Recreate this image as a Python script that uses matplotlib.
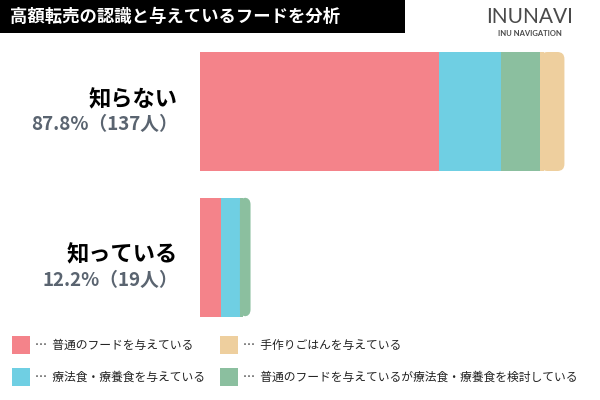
import matplotlib
matplotlib.use("Agg")
import matplotlib.pyplot as plt
from matplotlib.patches import Rectangle, FancyBboxPatch

plt.rcParams["font.family"] = "Noto Sans CJK JP"

title = "高額転売の認識と与えているフードを分析"
categories = ["知らない", "知っている"]
pct_labels = ["87.8%（137人）", "12.2%（19人）"]
series_names = ["普通のフードを与えている", "療法食・療養食を与えている",
                "普通のフードを与えているが療法食・療養食を検討している", "手作りごはんを与えている"]
# counts per category: [normal, therapeutic, considering, homemade]
normal = [90, 8]
therapeutic = [23, 7]
considering = [15, 4]
homemade = [9, 0]
colors = ["#F4838A", "#6FCFE3", "#8BBF9F", "#EECF9E"]

W, H = 600, 400
fig = plt.figure(figsize=(6, 4), dpi=100)
fig.patch.set_facecolor("white")

def fx(px): return px / W
def fy(py): return 1 - py / H

ax = fig.add_axes([fx(200), fy(317), fx(400), (317 - 52) / H])
ax.axis("off")
ax.set_xlim(0, 400 / 2.66)
ax.set_ylim(1 + 60 / 145.5, -59.5 / 145.5)
h = 119 / 145.5
series = [normal, therapeutic, considering, homemade]
ppx_x = 2.66
for i in range(len(categories)):
    left = 0
    segs = [(s[i], c) for s, c in zip(series, colors) if s[i] > 0]
    for j, (v, c) in enumerate(segs):
        if j < len(segs) - 1:
            ax.barh(i, v, left=left, height=h, color=c, linewidth=0)
        else:
            r = 7 / ppx_x
            asp = (7 / 145.5) / r
            ax.add_patch(FancyBboxPatch((left, i - h / 2), v, h,
                         boxstyle=f"round,pad=0,rounding_size={r}",
                         mutation_aspect=asp, facecolor=c, linewidth=0))
            ax.barh(i, min(v, r) * 0.5, left=left, height=h, color=c, linewidth=0)
        left += v

# title band
fig.patches.append(Rectangle((0, fy(33)), fx(405), 33 / H, transform=fig.transFigure,
                             facecolor="black", zorder=0))
fig.text(fx(10), fy(16.5), title, color="white", fontsize=12.5, fontweight="bold",
         va="center", ha="left")
fig.text(fx(530), fy(17), "INUNAVI", color="#4a4a4a", fontsize=15, ha="center",
         va="center", family="Lato")
fig.text(fx(530), fy(34), "INU NAVIGATION", color="#4a4a4a", fontsize=5.5, ha="center",
         va="center", family="Lato", fontweight="bold")

ys = [(100, 125), (255, 280)]
for (y1, y2), c, p in zip(ys, categories, pct_labels):
    fig.text(fx(178), fy(y1), c, fontsize=16, fontweight="bold", ha="right", va="center")
    fig.text(fx(178), fy(y2), p, fontsize=13.5, fontweight="bold", color="#5A6470",
             ha="right", va="center")

# legend
pos = [(12, 345), (12, 377), (220, 377), (220, 345)]
for (x, y), name, c in zip(pos, series_names, colors):
    fig.patches.append(Rectangle((fx(x), fy(y + 9)), fx(18), 18 / H,
                                 transform=fig.transFigure, facecolor=c, linewidth=0))
    fig.text(fx(x + 23), fy(y), "…  " + name, fontsize=8.5, ha="left", va="center",
             color="#222222")

fig.savefig("out.png", dpi=100)
